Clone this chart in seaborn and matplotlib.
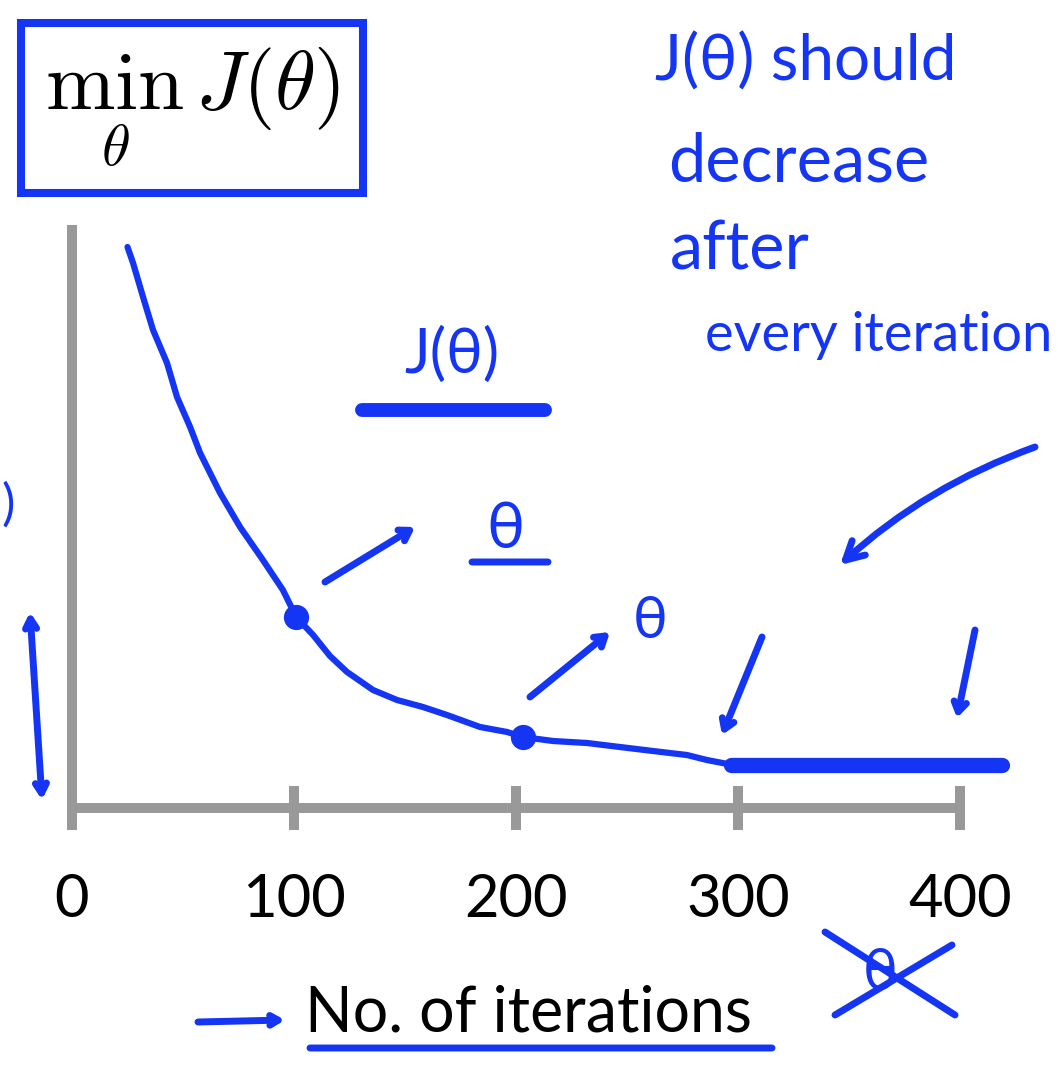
import numpy as np
import pandas as pd
import seaborn as sns
import matplotlib.pyplot as plt

# values (x: iterations, y: cost on an arbitrary scale)
iterations = [25, 27.5, 32, 36.5, 42.8, 47.3, 53.2, 57.7, 66.7, 75.7, 86, 95, 101,
              108.6, 116.2, 123.9, 135.6, 146.4, 158.1, 168.9, 183.8, 196, 203,
              216.7, 232, 246.8, 261.7, 277, 286, 297.7, 340, 380, 419]
cost = [5.61, 5.45, 5.11, 4.78, 4.45, 4.11, 3.81, 3.55, 3.15, 2.81, 2.48, 2.18, 1.91,
        1.73, 1.52, 1.36, 1.18, 1.08, 1.01, 0.93, 0.81, 0.76, 0.71,
        0.67, 0.65, 0.61, 0.57, 0.53, 0.48, 0.43, 0.43, 0.43, 0.44]
marked_iters = [101, 203]
marked_cost = [1.91, 0.71]
flat_iters = [297, 419]
flat_cost = [0.43, 0.43]
tick_values = [0, 100, 200, 300, 400]
tick_labels = ["0", "100", "200", "300", "400"]

BLUE = "#1535f5"
GRAY = "#999999"

sns.set_style("white")
plt.rcParams["font.family"] = ["Lato", "DejaVu Sans"]
plt.rcParams["mathtext.fontset"] = "cm"

fig = plt.figure(figsize=(10.58, 10.72), dpi=100)
ax = fig.add_axes([72 / 1058, 264 / 1072, 888 / 1058, 578 / 1072])

sns.lineplot(x=iterations, y=cost, ax=ax, color=BLUE, lw=4.5, sort=False,
             estimator=None, clip_on=False, zorder=4)
sns.lineplot(x=flat_iters, y=flat_cost, ax=ax, color=BLUE, lw=11,
             solid_capstyle="round", clip_on=False, zorder=4)
sns.scatterplot(x=marked_iters, y=marked_cost, ax=ax, color=BLUE, s=330,
                edgecolor=BLUE, linewidth=0, clip_on=False, zorder=5)

ax.set_xlim(0, 400)
ax.set_ylim(0, 5.78)
ax.set_xticks(tick_values)
ax.set_xticklabels(tick_labels, fontsize=43)
ax.set_yticks([])
for s in ["top", "right"]:
    ax.spines[s].set_visible(False)
for s in ["left", "bottom"]:
    ax.spines[s].set_color(GRAY)
    ax.spines[s].set_linewidth(7.2)
ax.tick_params(axis="x", bottom=True, direction="inout", length=31, width=7.2,
               color=GRAY, pad=31, labelcolor="black")
ax.set_xlabel("No. of iterations", fontsize=45, color="black")
ax.xaxis.set_label_coords(0.514, -0.305)

# hand drawn notes, positions in figure pixels (origin top-left of picture)
def fp(x, y):
    return (x, 1072 - y)

def stroke(p0, p1, style="-", lw=5, rad=0.0):
    ax.annotate("", xy=fp(*p1), xytext=fp(*p0), xycoords="figure pixels",
                textcoords="figure pixels",
                arrowprops=dict(arrowstyle=style, color=BLUE, lw=lw,
                                connectionstyle=f"arc3,rad={rad}",
                                shrinkA=0, shrinkB=0, capstyle="round",
                                joinstyle="round"))

def note(x, y, s, size=44, **kw):
    fig.text(x / 1058, 1 - y / 1072, s, color=BLUE, fontsize=size, **kw)

fig.text(192 / 1058, 1 - 108 / 1072, r"$\min_{\theta}\,J(\theta)$", fontsize=60,
         ha="center", va="center", color="black",
         bbox=dict(boxstyle="square,pad=0.28", fc="white", ec=BLUE, lw=5.8))

note(655, 62, "J(θ) should", size=46, va="center")
note(668, 162, "decrease", size=48, va="center")
note(670, 250, "after", size=48, va="center")
note(705, 335, "every iteration", size=39, va="center")

note(452, 355, "J(θ)", size=44, ha="center", va="center")
stroke((362, 410), (545, 410), lw=10)
note(505, 530, "θ", size=46, ha="center", va="center")
stroke((472, 562), (548, 562))
note(650, 622, "θ", size=42, ha="center", va="center")

head = "->,head_length=0.7,head_width=0.45"
stroke((325, 582), (415, 527), style=head)
stroke((530, 697), (610, 632), style=head)
stroke((762, 637), (722, 735), style=head)
stroke((975, 630), (957, 718), style=head)
stroke((1035, 447), (840, 565), style="->,head_length=1.3,head_width=0.7", rad=0.1)
stroke((30, 612), (42, 800), style="<->,head_length=0.7,head_width=0.4")
note(8, 505, ")", size=36, ha="center", va="center")

note(880, 973, "θ", size=42, ha="center", va="center")
stroke((825, 932), (955, 1015))
stroke((952, 945), (835, 1015))

stroke((198, 1022), (285, 1020), style="->,head_length=0.6,head_width=0.35")
stroke((310, 1048), (772, 1048), lw=5)

plt.savefig("out.png", dpi=100)
